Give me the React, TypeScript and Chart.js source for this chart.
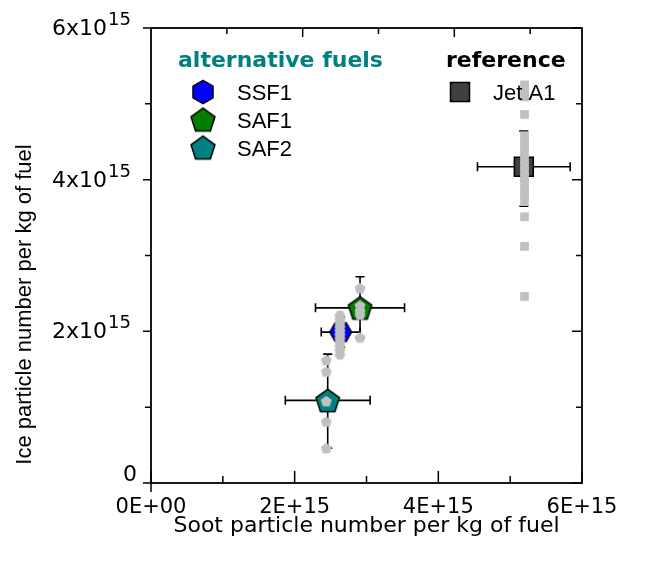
import React, { useEffect, useRef } from 'react';
import { Chart, registerables } from 'chart.js';

Chart.register(...registerables);

// ---------- axes ----------
const xTickValues = [0, 1e15, 2e15, 3e15, 4e15, 5e15, 6e15];
const xTickLabels = ['0E+00', '', '2E+15', '', '4E+15', '', '6E+15'];
const yTickValues = [0, 1e15, 2e15, 3e15, 4e15, 5e15, 6e15];
const yTickBase = ['0', '', '2x10', '', '4x10', '', '6x10'];
const yTickExp = ['', '', '15', '', '15', '', '15'];
const xTitle = 'Soot particle number per kg of fuel';
const yTitle = 'Ice particle number per kg of fuel';

// ---------- mean values with error bars ----------
const fuelNames = ['SSF1', 'SAF1', 'SAF2', 'Jet A1'];
const groupTitles = ['alternative fuels', 'reference'];
const meanSoot = [2.64e15, 2.91e15, 2.46e15, 5.19e15];
const meanIce = [1.99e15, 2.31e15, 1.09e15, 4.17e15];
const sootErr = [0.27e15, 0.62e15, 0.59e15, 0.645e15];
const iceErrUp = [0.2e15, 0.41e15, 0.61e15, 0.47e15];
const iceErrDown = [0.2e15, 0.4e15, 0.63e15, 0.52e15];

// ---------- individual measurements (grey) ----------
const rawSoot = [2.63e15, 2.91e15, 2.44e15, 5.2e15];
const ssf1RawIce = [2.21e15, 2.16e15, 2.11e15, 2.06e15, 2.01e15, 1.96e15, 1.91e15, 1.86e15, 1.81e15, 1.76e15, 1.69e15];
const saf1RawIce = [2.57e15, 2.34e15, 2.27e15, 2.22e15, 1.92e15];
const saf2RawIce = [1.62e15, 1.47e15, 1.08e15, 0.81e15, 0.46e15];
const jetRawIce = [5.25e15, 5.16e15, 5.09e15, 4.86e15, 4.58e15, 4.5e15, 4.43e15, 4.35e15, 4.27e15, 4.19e15, 4.11e15, 4.03e15, 3.95e15, 3.87e15, 3.79e15, 3.71e15, 3.51e15, 3.12e15, 2.46e15];

const fuelColors = ['#0000ff', '#008000', '#008080', '#404040'];
const GREY = '#c0c0c0';
const TEAL = '#008080';

function polygonCanvas(sides: number, r: number, fill: string, stroke: string, lw: number, startAngle: number, centerShift = 0) {
  const pad = Math.ceil(lw) + 2;
  const size = Math.ceil(2 * r) + 2 * pad;
  const c = document.createElement('canvas');
  c.width = size;
  c.height = size;
  const ctx = c.getContext('2d')!;
  const cx = size / 2;
  const cy = size / 2 + centerShift * r;
  ctx.beginPath();
  for (let k = 0; k < sides; k++) {
    const a = startAngle + (2 * Math.PI * k) / sides;
    const px = cx + r * Math.cos(a);
    const py = cy + r * Math.sin(a);
    if (k === 0) ctx.moveTo(px, py);
    else ctx.lineTo(px, py);
  }
  ctx.closePath();
  ctx.fillStyle = fill;
  ctx.fill();
  if (lw > 0) {
    ctx.lineWidth = lw;
    ctx.strokeStyle = stroke;
    ctx.lineJoin = 'miter';
    ctx.stroke();
  }
  return c;
}

export default function App() {
  const ref = useRef<HTMLCanvasElement | null>(null);

  useEffect(() => {
    if (!ref.current) return;
    const UP = -Math.PI / 2;
    const hexPlot = polygonCanvas(6, 10.9, fuelColors[0], '#000', 1.4, 0);
    const hexLegend = polygonCanvas(6, 11.6, fuelColors[0], '#000', 1.4, UP);
    const pentGreen = polygonCanvas(5, 12.3, fuelColors[1], '#000', 1.5, UP, 0.0955);
    const pentTeal = polygonCanvas(5, 12.3, fuelColors[2], '#000', 1.5, UP, 0.0955);
    const pentGreenL = polygonCanvas(5, 12.6, fuelColors[1], '#000', 1.5, UP, 0.0955);
    const pentTealL = polygonCanvas(5, 12.6, fuelColors[2], '#000', 1.5, UP, 0.0955);
    const greyHex = polygonCanvas(6, 5.5, GREY, GREY, 0, 0);
    const greyPent = polygonCanvas(5, 5.8, GREY, GREY, 0, UP, 0.0955);

    const CAP = 4.5;

    const decor = {
      id: 'decor',
      beforeDatasetsDraw(chart: any) {
        const { ctx, scales } = chart;
        const x = scales.x;
        const y = scales.y;
        ctx.save();
        ctx.strokeStyle = '#000';
        ctx.lineWidth = 1.6;
        for (let i = 0; i < fuelNames.length; i++) {
          const cx = x.getPixelForValue(meanSoot[i]);
          const cy = y.getPixelForValue(meanIce[i]);
          const xl = x.getPixelForValue(meanSoot[i] - sootErr[i]);
          const xr = x.getPixelForValue(meanSoot[i] + sootErr[i]);
          const yt = y.getPixelForValue(meanIce[i] + iceErrUp[i]);
          const yb = y.getPixelForValue(meanIce[i] - iceErrDown[i]);
          ctx.beginPath();
          ctx.moveTo(xl, cy); ctx.lineTo(xr, cy);
          ctx.moveTo(xl, cy - CAP); ctx.lineTo(xl, cy + CAP);
          ctx.moveTo(xr, cy - CAP); ctx.lineTo(xr, cy + CAP);
          ctx.moveTo(cx, yt); ctx.lineTo(cx, yb);
          ctx.moveTo(cx - CAP, yt); ctx.lineTo(cx + CAP, yt);
          ctx.moveTo(cx - CAP, yb); ctx.lineTo(cx + CAP, yb);
          ctx.stroke();
        }
        ctx.restore();
      },
      afterDraw(chart: any) {
        const { ctx, chartArea, scales } = chart;
        const { left, right, top, bottom } = chartArea;
        const x = scales.x;
        const y = scales.y;
        ctx.save();
        // frame
        ctx.strokeStyle = '#000';
        ctx.lineWidth = 1.8;
        ctx.strokeRect(left, top, right - left, bottom - top);
        // ticks
        ctx.lineWidth = 1.5;
        ctx.beginPath();
        xTickValues.forEach((v, i) => {
          const px = x.getPixelForValue(v);
          const len = xTickLabels[i] ? 12 : 7;
          ctx.moveTo(px, bottom);
          ctx.lineTo(px, bottom - len);
        });
        // y axis line runs slightly below the x axis at the origin
        ctx.moveTo(left, bottom);
        ctx.lineTo(left, bottom + 9);
        const y0 = y.getPixelForValue(0);
        yTickValues.forEach((v, i) => {
          const py = y.getPixelForValue(v);
          const major = yTickBase[i] !== '';
          ctx.moveTo(left, py);
          ctx.lineTo(left - (major ? 8 : 6), py);
          ctx.moveTo(right, py);
          ctx.lineTo(right - (major ? 10 : 6), py);
          const tx = left + (y0 - py);
          if (tx > left + 1 && tx < right - 1) {
            ctx.moveTo(tx, top);
            ctx.lineTo(tx, top + (major ? 9 : 6));
          }
        });
        ctx.stroke();

        // y tick labels with superscript
        ctx.fillStyle = '#000';
        ctx.textBaseline = 'alphabetic';
        const labelRight = left - 14;
        const expBlock = 30;
        yTickValues.forEach((v, i) => {
          if (!yTickBase[i]) return;
          const py = y.getPixelForValue(v);
          if (yTickExp[i]) {
            ctx.font = "18px 'DejaVu Sans'";
            ctx.textAlign = 'left';
            ctx.fillText(yTickExp[i], labelRight - expBlock + 1, py - 3);
            ctx.font = "22px 'DejaVu Sans'";
            ctx.textAlign = 'right';
            ctx.fillText(yTickBase[i], labelRight - expBlock, py + 7);
          } else {
            ctx.font = "22px 'DejaVu Sans'";
            ctx.textAlign = 'right';
            ctx.fillText(yTickBase[i], labelRight, py - 2);
          }
        });

        // y title
        ctx.save();
        ctx.translate(31, 304.5);
        ctx.rotate(-Math.PI / 2);
        ctx.font = "22px 'Liberation Sans'";
        ctx.textAlign = 'center';
        ctx.textBaseline = 'alphabetic';
        ctx.fillText(yTitle, 0, 0);
        ctx.restore();

        // legend
        ctx.textAlign = 'left';
        ctx.textBaseline = 'alphabetic';
        ctx.font = "bold 22px 'DejaVu Sans'";
        ctx.fillStyle = TEAL;
        ctx.fillText(groupTitles[0], 178, 67);
        ctx.fillStyle = '#000';
        ctx.fillText(groupTitles[1], 446, 67);

        const icons = [hexLegend, pentGreenL, pentTealL];
        const iconY = [92, 119.5, 147.5];
        const textY = [100, 128, 156];
        ctx.font = "22px 'Liberation Sans'";
        for (let i = 0; i < 3; i++) {
          const ic = icons[i];
          ctx.drawImage(ic, 203 - ic.width / 2, iconY[i] - ic.height / 2);
          ctx.fillStyle = '#000';
          ctx.fillText(fuelNames[i], 237, textY[i]);
        }
        // Jet A1 square
        ctx.fillStyle = fuelColors[3];
        ctx.fillRect(450.5, 82.5, 19, 19);
        ctx.strokeStyle = '#000';
        ctx.lineWidth = 1.5;
        ctx.strokeRect(450.5, 82.5, 19, 19);
        ctx.fillStyle = '#000';
        ctx.fillText(fuelNames[3], 493, 100);
        ctx.restore();
      },
    };

    const mainSet = (i: number, style: any, radius: number) => ({
      label: fuelNames[i],
      data: [{ x: meanSoot[i], y: meanIce[i] }],
      pointStyle: style,
      pointRadius: radius,
      pointBackgroundColor: fuelColors[i],
      pointBorderColor: '#000',
      pointBorderWidth: 1.5,
      showLine: false,
      order: 2,
    });
    const rawSet = (i: number, vals: number[], style: any, radius: number) => ({
      label: fuelNames[i] + ' single',
      data: vals.map((v) => ({ x: rawSoot[i], y: v })),
      pointStyle: style,
      pointRadius: radius,
      pointBackgroundColor: GREY,
      pointBorderColor: GREY,
      pointBorderWidth: 0,
      showLine: false,
      order: 1,
    });

    const chart = new Chart(ref.current, {
      type: 'scatter',
      data: {
        datasets: [
          mainSet(0, hexPlot, 11),
          mainSet(1, pentGreen, 12),
          mainSet(2, pentTeal, 12),
          mainSet(3, 'rect', 13.4),
          rawSet(0, ssf1RawIce, greyHex, 5),
          rawSet(1, saf1RawIce, greyPent, 5),
          rawSet(2, saf2RawIce, greyPent, 5),
          rawSet(3, jetRawIce, 'rect', 6.15),
        ] as any,
      },
      options: {
        animation: false,
        responsive: false,
        layout: { padding: { left: 0, right: 70, top: 28, bottom: 0 } },
        plugins: {
          legend: { display: false },
          tooltip: { enabled: false },
        },
        scales: {
          x: {
            type: 'linear',
            position: 'bottom',
            min: 0,
            max: 6e15,
            afterBuildTicks: (s: any) => {
              s.ticks = xTickValues.map((v) => ({ value: v }));
            },
            afterFit: (s: any) => {
              s.height = 78;
            },
            ticks: {
              autoSkip: false,
              maxRotation: 0,
              padding: 12,
              color: '#000',
              font: { family: "'DejaVu Sans'", size: 21 },
              callback: (val: any) => {
                const idx = xTickValues.findIndex((t) => Math.abs(t - Number(val)) < 1e10);
                return idx >= 0 ? xTickLabels[idx] : '';
              },
            },
            grid: { display: false, drawTicks: false },
            border: { display: false },
            title: {
              display: true,
              text: xTitle,
              color: '#000',
              font: { family: "'DejaVu Sans'", size: 22 },
              padding: { top: 0, bottom: 22 },
            },
          },
          y: {
            type: 'linear',
            position: 'left',
            min: 0,
            max: 6e15,
            afterBuildTicks: (s: any) => {
              s.ticks = yTickValues.map((v) => ({ value: v }));
            },
            afterFit: (s: any) => {
              s.width = 151;
            },
            ticks: { display: false },
            grid: { display: false, drawTicks: false },
            border: { display: false },
          },
        },
      } as any,
      plugins: [decor as any],
    });

    return () => chart.destroy();
  }, []);

  return (
    <div style={{ position: 'absolute', left: 0, top: 0, width: 652, height: 561, background: '#fff' }}>
      <canvas ref={ref} width={652} height={561} style={{ display: 'block' }} />
    </div>
  );
}
